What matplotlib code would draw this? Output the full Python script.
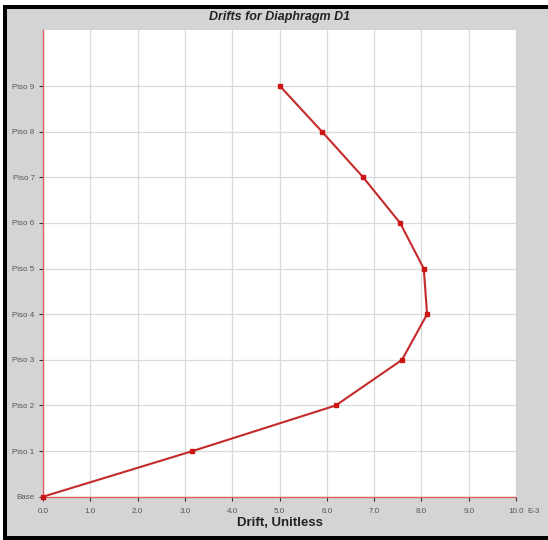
import matplotlib
matplotlib.use("Agg")
import matplotlib.pyplot as plt
from matplotlib.patches import Rectangle

# Story drifts (x 1E-3) for diaphragm D1
stories = ["Base", "Piso 1", "Piso 2", "Piso 3", "Piso 4", "Piso 5",
           "Piso 6", "Piso 7", "Piso 8", "Piso 9"]
drift = [0.0, 3.16, 6.19, 7.59, 8.12, 8.05, 7.55, 6.77, 5.90, 5.01]
x_ticks = [0, 1, 2, 3, 4, 5, 6, 7, 8, 9, 10]
x_tick_labels = ["0.0", "1.0", "2.0", "3.0", "4.0", "5.0",
                 "6.0", "7.0", "8.0", "9.0", "10.0"]

plt.rcParams["font.family"] = ["Liberation Sans", "DejaVu Sans"]

W, H = 548, 540
fig = plt.figure(figsize=(W / 100, H / 100), dpi=100, facecolor="#d4d4d4")

# white outer margin and black frame
fig.patches.append(Rectangle((0, 0), 3 / W, 1, transform=fig.transFigure,
                             facecolor="white", edgecolor="none", zorder=0))
fig.patches.append(Rectangle((0, 1 - 5 / H), 1, 5 / H, transform=fig.transFigure,
                             facecolor="white", edgecolor="none", zorder=0))
fig.patches.append(Rectangle((3 / W, 0), 4 / W, 1 - 5 / H, transform=fig.transFigure,
                             facecolor="black", edgecolor="none", zorder=1))
fig.patches.append(Rectangle((3 / W, 1 - 9 / H), 1, 4 / H, transform=fig.transFigure,
                             facecolor="black", edgecolor="none", zorder=1))
fig.patches.append(Rectangle((3 / W, 0), 1, 4 / H, transform=fig.transFigure,
                             facecolor="black", edgecolor="none", zorder=1))

ax = fig.add_axes([43 / W, (H - 496.7) / H, (516 - 43) / W, (496.7 - 30) / H])
ax.set_facecolor("white")

y = list(range(len(stories)))
ax.plot(drift, y, color="#c42a2a", lw=1.5, marker="s", markersize=3.5,
        markerfacecolor="#cc1515", markeredgecolor="#cc1515", zorder=3,
        clip_on=False)

ax.set_xlim(0, 10)
ax.set_ylim(0, 10.23)
ax.set_xticks(x_ticks)
ax.set_xticklabels(x_tick_labels)
ax.set_yticks(y)
ax.set_yticklabels(stories)

ax.grid(True, color="#dadada", lw=0.9)
ax.set_axisbelow(True)

for side in ("top", "right"):
    ax.spines[side].set_visible(False)
for side in ("left", "bottom"):
    ax.spines[side].set_color("#e06060")
    ax.spines[side].set_linewidth(1.0)

ax.tick_params(axis="both", direction="out", length=3, width=0.8,
               color="#333333", labelsize=5.8, labelcolor="#555555", pad=3)
ax.tick_params(axis="x", pad=5)

ax.annotate("E-3", xy=(10, 0), xycoords=("data", "axes fraction"),
            xytext=(8, -8), textcoords="offset points",
            ha="left", va="top", fontsize=5.8, color="#555555",
            annotation_clip=False)

fig.text(280 / W, 1 - 17 / H, "Drifts for Diaphragm D1", ha="center",
         va="center", fontsize=9, fontweight="bold", fontstyle="italic",
         color="#222222")
fig.text(280 / W, 1 - 523 / H, "Drift, Unitless", ha="center", va="center",
         fontsize=9.5, fontweight="bold", color="#222222")

fig.savefig("out.png", dpi=100, facecolor=fig.get_facecolor())
